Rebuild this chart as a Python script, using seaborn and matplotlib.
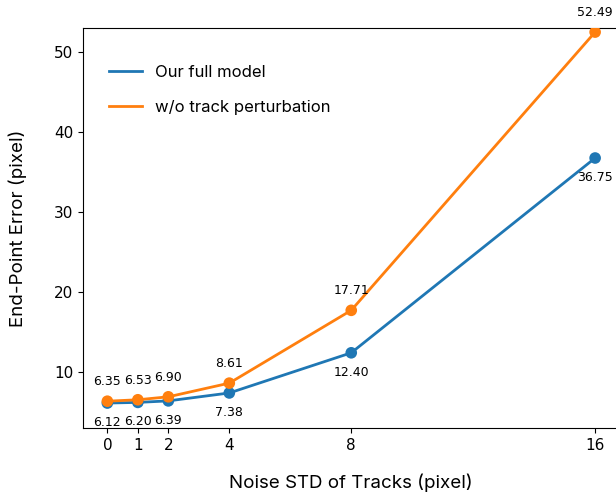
import pandas as pd
import matplotlib
matplotlib.use("Agg")
import matplotlib.pyplot as plt
import seaborn as sns

# noise std levels and end-point error for the two variants
noise_std = [0, 1, 2, 4, 8, 16]
epe_full = [6.12, 6.20, 6.39, 7.38, 12.40, 36.75]
epe_no_pert = [6.35, 6.53, 6.90, 8.61, 17.71, 52.49]
series_names = ["Our full model", "w/o track perturbation"]

BLUE = "#1f77b4"
ORANGE = "#ff7f0e"

df = pd.DataFrame({
    "noise": noise_std * 2,
    "epe": epe_full + epe_no_pert,
    "model": [series_names[0]] * len(noise_std) + [series_names[1]] * len(noise_std),
})

fig = plt.figure(figsize=(6.16, 4.94), dpi=100)
ax = fig.add_axes([0.1347, 0.1336, 0.871, 0.8097])

palette = {series_names[0]: BLUE, series_names[1]: ORANGE}
sns.lineplot(data=df, x="noise", y="epe", hue="model", palette=palette,
             linewidth=2, ax=ax)
sns.scatterplot(data=df, x="noise", y="epe", hue="model", palette=palette,
                s=70, edgecolor="none", legend=False, ax=ax, zorder=3)

# value labels: orange above, blue below
for x, y in zip(noise_std, epe_no_pert):
    ax.annotate(f"{y:.2f}", (x, y), xytext=(0, 14), textcoords="offset points",
                ha="center", va="center", fontsize=9, family="DejaVu Sans")
for x, y in zip(noise_std, epe_full):
    ax.annotate(f"{y:.2f}", (x, y), xytext=(0, -14), textcoords="offset points",
                ha="center", va="center", fontsize=9, family="DejaVu Sans")

ax.set_xticks(noise_std)
ax.set_xlim(-0.8, 16.8)
ax.set_ylim(3, 53)
ax.tick_params(labelsize=11)

ax.set_xlabel("Noise STD of Tracks (pixel)", fontsize=13.5, family="Inter", labelpad=15)
ax.set_ylabel("End-Point Error (pixel)", fontsize=13.5, family="Inter", labelpad=19)

leg = ax.legend(loc="upper left", frameon=False, bbox_to_anchor=(0.02, 0.945),
                prop={"family": "Inter", "size": 12}, labelspacing=1.2)

fig.savefig("out.png", dpi=100)
